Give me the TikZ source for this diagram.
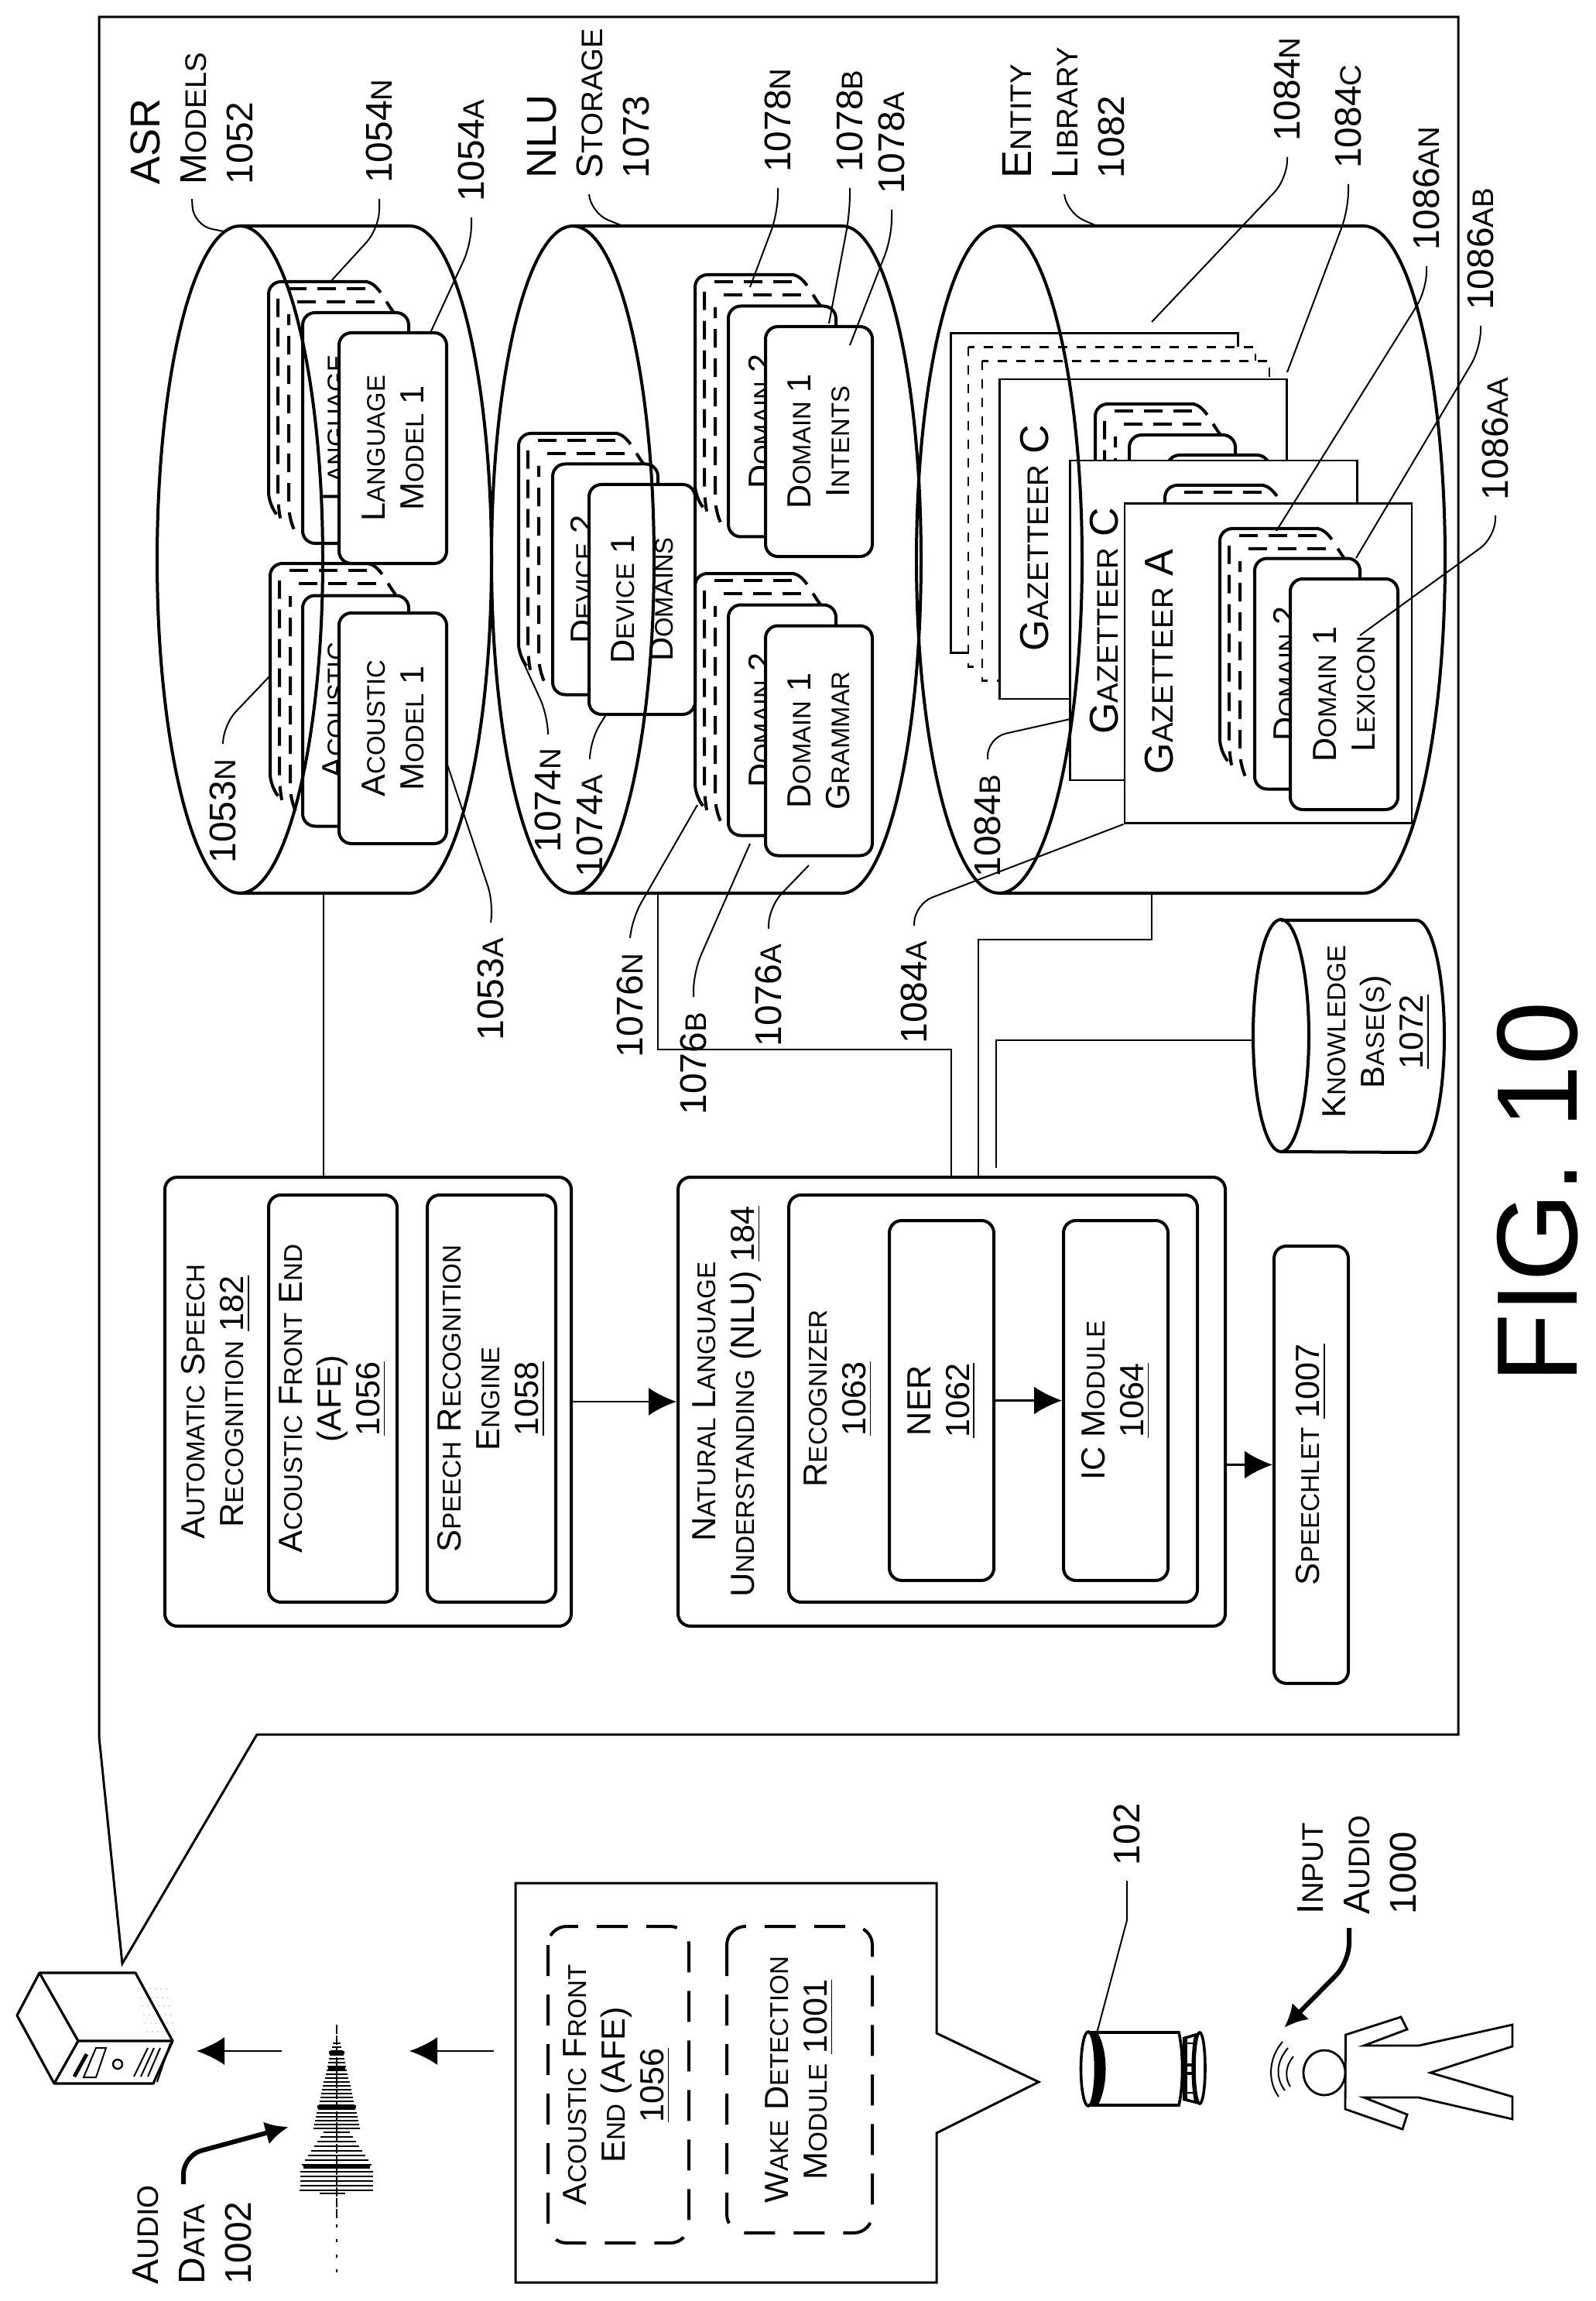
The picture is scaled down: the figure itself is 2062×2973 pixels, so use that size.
\documentclass[tikz,border=0pt]{standalone}
\usepackage{fontspec}
\setmainfont{Liberation Sans}
\usetikzlibrary{arrows.meta,calc}

\newcommand{\smc}[1]{{\fontsize{\smcsize}{\baselineskip}\selectfont #1}}

% back layers of a stack of rounded boxes, given its upper left corner
\newcommand{\layerstack}[2]{
    \begin{scope}[shift={(#1,#2)}]
        \draw[boxline,rounded corners=4pt] (10,300) -- (0,288) -- (0,0) -- (128,0);
        \draw[stackdash] (126,0) .. controls (142,2) and (150,25) .. (162,40);
        \draw[stackdash,rounded corners=4pt] (14,300) -- (12,290) -- (12,22);
        \draw[stackdash] (25,9) -- (130,9);
        \draw[stackdash,rounded corners=4pt] (32,318) -- (26,305) -- (26,42);
        \draw[stackdash] (37,26) -- (146,26);
    \end{scope}
}

\tikzset{
    labelfont/.style={font=\fontsize{12}{15}\selectfont\def\smcsize{9.6}},
    boxfont/.style={font=\fontsize{10.8}{12.6}\selectfont\def\smcsize{8.2}},
    blockfont/.style={font=\fontsize{10.8}{12.5}\selectfont\def\smcsize{8.3}},
    boxline/.style={line width=1pt},
    stackdash/.style={line width=1pt,dash pattern=on 6pt off 3.5pt},
    boxdim/.style 2 args={minimum height=#1*0.25pt,minimum width=#2*0.25pt},
    roundbox/.style={draw,rectangle,boxline,rounded corners=4pt,fill=white,rotate=90,inner sep=0pt,align=center,boxfont},
    block/.style={roundbox,blockfont},
    dashbox/.style={draw,rectangle,rounded corners=6pt,line width=1pt,dash pattern=on 10pt off 6pt,rotate=90,inner sep=0pt,align=center,blockfont},
    gazbox/.style={draw,rectangle,line width=0.7pt,fill=white,rotate=90,minimum height=371*0.25pt,minimum width=413*0.25pt},
    boxtext/.style={rotate=90,inner sep=0pt,align=center,boxfont},
    blocktext/.style={rotate=90,inner sep=0pt,align=center,blockfont},
    gaztext/.style={rotate=90,inner sep=0pt,font=\fontsize{13}{15}\selectfont\def\smcsize{9.6}},
    titletext/.style={rotate=90,inner sep=0pt,align=left,anchor=north west,labelfont},
    reflabel/.style={rotate=90,inner sep=0pt,outer sep=5pt,labelfont},
    leader/.style={line width=0.5pt,rounded corners=6pt},
    wire/.style={line width=0.5pt},
    flow/.style={line width=0.6pt,-{Latex[length=9pt,width=9pt]}},
    bigflow/.style={line width=1.5pt,rounded corners=6pt,-{Latex[length=7.5pt,width=7.5pt]}},
    cyl/.style={line width=1pt}
}

\begin{document}
\begin{tikzpicture}[x=0.25pt,y=-0.25pt]
    \useasboundingbox (0,0) rectangle (2062,2973);

    \draw[line width=0.75pt] (128,22) -- (1884,22) -- (1884,2241) -- (332,2241) -- (158,2537) -- (128,2244) -- cycle;

    \node[titletext] (asrTitle) at (168,239) {{\fontsize{13.5}{15}\selectfont ASR}\\M\smc{ODELS}\\1052};
    \node[titletext] (nluTitle) at (681,231) {{\fontsize{13.5}{15}\selectfont NLU}\\S\smc{TORAGE}\\1073};
    \node[titletext] (entityTitle) at (1295,231) {{\fontsize{13.5}{15}\selectfont E}\smc{NTITY}\\L\smc{IBRARY}\\1082};

    % ASR models
    \layerstack{347}{364}
    \node[roundbox,boxdim={137}{298}] (langMid) at (459.5,553) {};
    \node[boxtext] (langMidText) at (432,553) {L\smc{ANGUAGE}};
    \node[roundbox,boxdim={139}{298}] (langFront) at (507.5,579) {L\smc{ANGUAGE}\\M\smc{ODEL} 1};

    \layerstack{349}{728}
    \node[roundbox,boxdim={137}{298}] (acMid) at (459.5,918.5) {};
    \node[boxtext] (acMidText) at (432,918.5) {A\smc{COUSTIC}};
    \node[roundbox,boxdim={139}{298}] (acFront) at (507.5,941) {A\smc{COUSTIC}\\M\smc{ODEL} 1};

    % NLU storage
    \layerstack{670}{560}
    \node[roundbox,boxdim={136}{298}] (devMid) at (782,748.5) {};
    \node[boxtext] (devMidText) at (753,748.5) {D\smc{EVICE} 2};
    \node[roundbox,boxdim={137}{297}] (devFront) at (829.5,774.5) {D\smc{EVICE} 1\\D\smc{OMAINS}};

    \layerstack{898}{355}
    \node[roundbox,boxdim={139}{298}] (intMid) at (1010.5,544.5) {};
    \node[boxtext] (intMidText) at (983,544.5) {D\smc{OMAIN} 2};
    \node[roundbox,boxdim={138}{297}] (intFront) at (1058,570.5) {D\smc{OMAIN} 1\\I\smc{NTENTS}};

    \layerstack{898}{741}
    \node[roundbox,boxdim={139}{298}] (gramMid) at (1010.5,930.5) {};
    \node[boxtext] (gramMidText) at (983,930.5) {D\smc{OMAIN} 2};
    \node[roundbox,boxdim={138}{297}] (gramFront) at (1058,957) {D\smc{OMAIN} 1\\G\smc{RAMMAR}};

    % entity library
    \node[gazbox] (gazBack) at (1414,637) {};
    \node[gazbox,dashed] (gazDashA) at (1436.5,655) {};
    \node[gazbox,dashed] (gazDashB) at (1454.5,673) {};
    \node[gazbox] (gazTop) at (1477,696.5) {};
    \node[gaztext] (gazTopText) at (1337,695) {G\smc{AZETTEER} C};
    \layerstack{1415}{522}
    \node[roundbox,boxdim={137}{298}] (gazTopMid) at (1527.5,711) {};
    \node[roundbox,boxdim={132}{298}] (gazTopFront) at (1574,737) {};

    \node[gazbox] (gazMid) at (1568,801.5) {};
    \node[gaztext] (gazMidText) at (1427,802) {G\smc{AZETTEER} C};
    \layerstack{1505}{627}

    \node[gazbox] (gazA) at (1638.5,857) {};
    \node[gaztext] (gazAText) at (1498,855) {G\smc{AZETTEER} A};
    \layerstack{1576}{683}
    \node[roundbox,boxdim={136}{298}] (lexMid) at (1689,870.5) {};
    \node[boxtext] (lexMidText) at (1661,870.5) {D\smc{OMAIN} 2};
    \node[roundbox,boxdim={139}{298}] (lexFront) at (1736.5,897) {D\smc{OMAIN} 1\\L\smc{EXICON}};

    % cylinders
    \draw[cyl] (310,292) -- (530,292) arc[start angle=-90,end angle=90,x radius=105,y radius=431] -- (310,1154);
    \draw[cyl] (310,723) ellipse (107 and 431);
    \draw[cyl] (740,292) -- (1088,292) arc[start angle=-90,end angle=90,x radius=102,y radius=431] -- (740,1154);
    \draw[cyl] (740,723) ellipse (105 and 431);
    \draw[cyl] (1291,292) -- (1762,292) arc[start angle=-90,end angle=90,x radius=105,y radius=431] -- (1291,1154);
    \draw[cyl] (1291,723) ellipse (107 and 431);

    \draw[cyl] (1655,1189) -- (1830,1189) arc[start angle=-90,end angle=90,x radius=36,y radius=150] -- (1655,1488);
    \draw[cyl] (1655,1338) ellipse (36 and 150);
    \node[blocktext] (kbText) at (1778,1333) {K\smc{NOWLEDGE}\\B\smc{ASE}(\smc{S})\\\underline{1072}};

    % reference labels
    \coordinate (asrTick) at (248,257);
    \coordinate (e1052) at (289,299);
    \draw[leader] (asrTick) -- (250,291) -- (e1052);
    \coordinate (nluTick) at (761,251);
    \coordinate (e1073) at (802,291);
    \draw[leader] (nluTick) -- (763,275) -- (e1073);
    \coordinate (entityTick) at (1375,251);
    \coordinate (e1082) at (1415,291);
    \draw[leader] (entityTick) -- (1378,275) -- (e1082);

    \node[reflabel,anchor=west] (l1054N) at (490,257) {1054\smc{N}};
    \coordinate (e1054N) at (426,365);
    \draw[leader] (l1054N.west) -- (490,295) -- (e1054N);
    \node[reflabel,anchor=west] (l1054A) at (609,281) {1054\smc{A}};
    \coordinate (e1054A) at (556,430);
    \draw[leader] (l1054A.west) -- (609,315) -- (e1054A);
    \node[reflabel,anchor=east] (l1053N) at (288,961) {1053\smc{N}};
    \coordinate (e1053N) at (349,873);
    \draw[leader] (l1053N.east) -- (288,937) -- (e1053N);
    \node[reflabel,anchor=east] (l1053A) at (634,1192) {1053\smc{A}};
    \coordinate (e1053A) at (577,985);
    \draw[leader] (l1053A.east) -- (638,1168) -- (e1053A);
    \node[reflabel,anchor=east] (l1074N) at (708,947) {1074\smc{N}};
    \coordinate (e1074N) at (673,849);
    \draw[leader] (l1074N.east) -- (708,925) -- (e1074N);
    \node[reflabel,anchor=east] (l1074A) at (762,981) {1074\smc{A}};
    \coordinate (e1074A) at (782,925);
    \draw[leader] (l1074A.east) -- (762,957) -- (e1074A);
    \node[reflabel,anchor=east] (l1076N) at (814,1212) {1076\smc{N}};
    \coordinate (e1076N) at (901,1040);
    \draw[leader] (l1076N.east) -- (816,1188) -- (e1076N);
    \node[reflabel,anchor=east] (l1076B) at (896,1288) {1076\smc{B}};
    \coordinate (e1076B) at (969,1090);
    \draw[leader] (l1076B.east) -- (896,1256) -- (e1076B);
    \node[reflabel,anchor=east] (l1076A) at (993,1200) {1076\smc{A}};
    \coordinate (e1076A) at (1045,1118);
    \draw[leader] (l1076A.east) -- (993,1172) -- (e1076A);
    \node[reflabel,anchor=east] (l1084A) at (1181,1196) {1084\smc{A}};
    \draw[leader] (l1084A.east) -- (1182,1168) -- (gazA.north west);
    \node[reflabel,anchor=east] (l1084B) at (1276,981) {1084\smc{B}};
    \coordinate (e1084B) at (1383,929);
    \draw[leader] (l1084B.east) -- (1276,953) -- (e1084B);
    \node[reflabel,anchor=west] (l1078N) at (1005,243) {1078\smc{N}};
    \coordinate (e1078N) at (969,371);
    \draw[leader] (l1078N.west) -- (1005,275) -- (e1078N);
    \node[reflabel,anchor=west] (l1078B) at (1098,243) {1078\smc{B}};
    \coordinate (e1078B) at (1071,418);
    \draw[leader] (l1078B.west) -- (1098,275) -- (e1078B);
    \node[reflabel,anchor=west] (l1078A) at (1152,271) {1078\smc{A}};
    \coordinate (e1078A) at (1098,446);
    \draw[leader] (l1078A.west) -- (1152,307) -- (e1078A);
    \node[reflabel,anchor=west] (l1084N) at (1663,203) {1084\smc{N}};
    \coordinate (e1084N) at (1488,416);
    \draw[leader] (l1084N.west) -- (1663,231) -- (e1084N);
    \node[reflabel,anchor=west] (l1084C) at (1742,238) {1084\smc{C}};
    \coordinate (e1084C) at (1663,481);
    \draw[leader] (l1084C.west) -- (1742,271) -- (e1084C);
    \node[reflabel,anchor=west] (l1086AN) at (1843,344) {1086\smc{AN}};
    \coordinate (e1086AN) at (1649,686);
    \draw[leader] (l1086AN.west) -- (1843,375) -- (e1086AN);
    \node[reflabel,anchor=west] (l1086AB) at (1913,421) {1086\smc{AB}};
    \coordinate (e1086AB) at (1752,721);
    \draw[leader] (l1086AB.west) -- (1913,450) -- (e1086AB);
    \node[reflabel,anchor=west] (l1086AA) at (1932,666) {1086\smc{AA}};
    \coordinate (e1086AA) at (1757,821);
    \draw[leader] (l1086AA.west) -- (1932,694) -- (e1086AA);

    % speech processing blocks
    \node[block,boxdim={525}{580}] (asrBox) at (475.5,1811) {};
    \node[blocktext] (asrText) at (279,1811) {A\smc{UTOMATIC} S\smc{PEECH}\\R\smc{ECOGNITION} \underline{182}};
    \node[block,boxdim={166}{526}] (afeBox) at (430,1807) {A\smc{COUSTIC} F\smc{RONT} E\smc{ND}\\(AFE)\\\underline{1056}};
    \node[block,boxdim={166}{526}] (srBox) at (635,1807) {S\smc{PEECH} R\smc{ECOGNITION}\\E\smc{NGINE}\\\underline{1058}};

    \node[block,boxdim={707}{580}] (nluBox) at (1229.5,1811) {};
    \node[blocktext] (nluText) at (939,1811) {N\smc{ATURAL} L\smc{ANGUAGE}\\U\smc{NDERSTANDING} (NLU) \underline{184}};
    \node[block,boxdim={528}{526}] (recBox) at (1283,1807) {};
    \node[blocktext] (recText) at (1083,1807) {R\smc{ECOGNIZER}\\\underline{1063}};
    \node[block,boxdim={135}{465}] (nerBox) at (1216.5,1809.5) {NER\\\underline{1062}};
    \node[block,boxdim={135}{465}] (icBox) at (1441.5,1809.5) {IC M\smc{ODULE}\\\underline{1064}};
    \node[block,boxdim={96}{565}] (splBox) at (1694,1892.5) {S\smc{PEECHLET} \underline{1007}};

    \draw[flow] (asrBox.south) -- (nluBox.north);
    \draw[flow] (nerBox.south) -- (icBox.north);
    \draw[flow] (nluBox.south |- splBox.north) -- (splBox.north);

    \coordinate (asrBase) at (418,1154);
    \coordinate (nluBase) at (850,1154);
    \coordinate (entityBase) at (1488,1154);
    \coordinate (kbSide) at (1619,1344);
    \draw[wire] (asrBase) -- (asrBase |- asrBox.east);
    \draw[wire] (nluBase) -- (850,1356) -- (1229,1356) -- (1229,1521);
    \draw[wire] (entityBase) -- (1488,1214) -- (1264,1214) -- (1264,1521);
    \draw[wire] (kbSide) -- (1287,1344) -- (1287,1509);

    \node[rotate=90,inner sep=0pt,font=\fontsize{37}{37}\selectfont] (figText) at (1987,1541) {FIG. 10};

    % local device
    \draw[line width=0.75pt] (666,2433) -- (1210,2433) -- (1210,2627) -- (1342,2690) -- (1210,2756) -- (1210,2949) -- (666,2949) -- cycle;
    \node[dashbox,boxdim={182}{409}] (afeLocal) at (799,2693.5) {};
    \node[blocktext] (afeLocalText) at (797,2694) {A\smc{COUSTIC} F\smc{RONT}\\E\smc{ND} (AFE)\\\underline{1056}};
    \node[dashbox,boxdim={188}{396}] (wakeBox) at (1033,2687) {W\smc{AKE} D\smc{ETECTION}\\M\smc{ODULE} \underline{1001}};

    \coordinate (bubbleLeft) at (638,2650);
    \coordinate (waveRight) at (529,2650);
    \coordinate (waveLeft) at (364,2650);
    \coordinate (serverRight) at (254,2650);
    \draw[flow] (bubbleLeft) -- (waveRight);
    \draw[flow] (waveLeft) -- (serverRight);

    % waveform
    \draw[line width=0.3pt,dash pattern=on 3pt off 0.5pt] (435,2616) -- (435,2867);
    \foreach \yy in {2640,2645,...,2750} {
        \pgfmathsetmacro{\hw}{(\yy-2616)/134*30}
        \draw[line width=0.35pt] (435-\hw,\yy) -- (435+\hw,\yy);
    }
    \foreach \yy in {2755,2761,...,2800} {
        \pgfmathsetmacro{\hw}{17+(\yy-2755)/45*30}
        \draw[line width=0.35pt] (435-\hw,\yy) -- (435+\hw,\yy);
    }
    \foreach \yy in {2806,2812,...,2830} {
        \draw[line width=0.35pt] (388,\yy) -- (482,\yy);
    }
    \draw[line width=1pt] (425,2652) -- (445,2652);
    \draw[line width=1pt] (424,2672) -- (446,2672);
    \draw[line width=1pt] (410,2722) -- (460,2722);
    \draw[line width=1.2pt] (392,2800) -- (478,2800);
    \draw[line width=0.6pt] (387,2830) -- (477,2830);
    \draw[line width=0.5pt] (413,2834) -- (446,2834);
    \foreach \yy in {2874,2893,2913,2932} {
        \draw[line width=0.3pt] (435,\yy) -- (435,\yy+4);
    }

    \node[titletext] (audioTitle) at (171,2952) {A\smc{UDIO}\\D\smc{ATA}\\1002};
    \coordinate (audioTail) at (237,2822);
    \coordinate (audioTip) at (373,2748);
    \draw[bigflow] (audioTail) -- (237,2785) -- (audioTip);

    % server
    \draw[line width=0.8pt,line join=round] (51,2549) -- (175,2549) -- (223,2637) -- (198,2692) -- (70,2692) -- (22,2604) -- cycle;
    \draw[line width=0.8pt] (51,2549) -- (101,2637) -- (223,2637);
    \draw[line width=0.8pt] (101,2637) -- (70,2692);
    \draw[line width=0.5pt] (124,2646) -- (137,2646) -- (124,2684) -- (108,2684) -- cycle;
    \draw[line width=1.2pt] (112,2654) -- (96,2683);
    \draw[line width=0.6pt] (152,2667) circle (6);
    \draw[line width=0.5pt] (191,2646) -- (173,2683);
    \draw[line width=0.5pt] (199,2646) -- (182,2683);
    \draw[line width=0.5pt] (207,2646) -- (191,2683);
    \draw[line width=0.5pt] (220,2640) -- (203,2690);
    \foreach \dx in {0,1,...,5} {
        \foreach \dy in {0,1,...,5} {
            \fill[black!60] (180+\dx*7+\dy*2,2570+\dy*11) circle (0.6);
        }
    }

    % speech device
    \node[reflabel,anchor=west] (l102) at (1456,2430) {102};
    \coordinate (e102) at (1417,2627);
    \draw[wire] (l102.west) -- (1456,2481) -- (e102);
    \draw[line width=0.9pt] (1406,2626) -- (1523,2626) .. controls (1529,2650) and (1529,2696) .. (1523,2720) -- (1406,2720);
    \draw[line width=0.9pt] (1406,2673) ellipse (9.5 and 48);
    \fill (1408,2626) .. controls (1420,2650) and (1420,2696) .. (1408,2721) -- (1418,2721) .. controls (1432,2696) and (1432,2650) .. (1418,2626) -- cycle;
    \draw[line width=0.9pt] (1528,2634) -- (1548,2628);
    \draw[line width=0.9pt] (1528,2712) -- (1548,2717);
    \draw[line width=0.9pt] (1550,2672) ellipse (7 and 46);
    \draw[line width=0.9pt] (1545,2629) .. controls (1540,2650) and (1540,2695) .. (1545,2716);
    \draw[line width=1.4pt] (1531,2634) -- (1531,2712);
    \draw[line width=0.7pt] (1530,2640) -- (1543,2640);
    \draw[line width=0.9pt] (1530,2668) -- (1543,2668);
    \draw[line width=0.9pt] (1530,2679) -- (1543,2679);
    \draw[line width=0.7pt] (1530,2704) -- (1543,2704);

    % person
    \node[titletext] (inputTitle) at (1676,2474) {I\smc{NPUT}\\A\smc{UDIO}\\1000};
    \coordinate (inputTail) at (1743,2491);
    \coordinate (inputTip) at (1659,2620);
    \draw[bigflow] (inputTail) -- (1743,2535) -- (inputTip);
    \draw[line width=0.7pt] (1711,2678) ellipse (27 and 29);
    \draw[line width=0.7pt] (1738.5,2629) -- (1810,2606) -- (1818,2622) -- (1762,2643) -- (1833,2643) -- (1954,2616) -- (1954,2644) -- (1848,2678) -- (1954,2709) -- (1954,2738) -- (1833,2710) -- (1762,2710) -- (1818,2732) -- (1812,2751) -- (1738,2725) -- cycle;
    \draw[line width=0.5pt] (1657,2638) .. controls (1638,2660) and (1638,2690) .. (1652,2709);
    \draw[line width=0.5pt] (1664,2646) .. controls (1648,2665) and (1648,2685) .. (1660,2701);
    \draw[line width=0.5pt] (1671,2657) .. controls (1660,2670) and (1660,2685) .. (1667,2696);
\end{tikzpicture}
\end{document}
